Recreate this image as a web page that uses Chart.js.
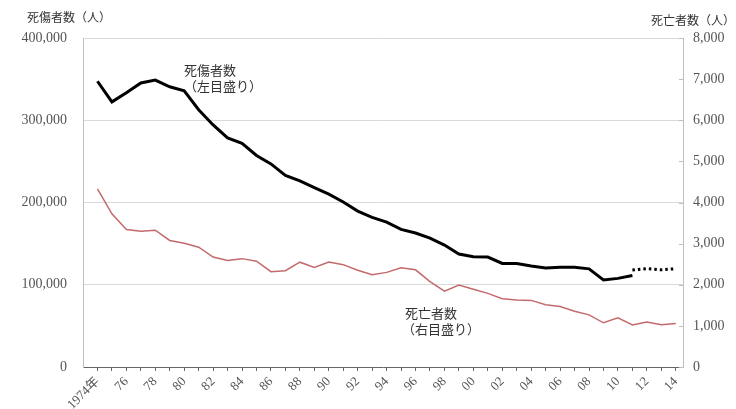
<!DOCTYPE html>
<html>
<head>
<meta charset="utf-8">
<script src="https://cdn.jsdelivr.net/npm/chart.js@4/dist/chart.umd.min.js"></script>
<style>
html, body { margin: 0; padding: 0; background: #fff; }
#wrap { width: 736px; height: 409px; }
</style>
</head>
<body>
<div id="wrap"><canvas id="chart"></canvas></div>
<script>
// years on the x axis
const years = [1974, 1975, 1976, 1977, 1978, 1979, 1980, 1981, 1982, 1983,
               1984, 1985, 1986, 1987, 1988, 1989, 1990, 1991, 1992, 1993,
               1994, 1995, 1996, 1997, 1998, 1999, 2000, 2001, 2002, 2003,
               2004, 2005, 2006, 2007, 2008, 2009, 2010, 2011, 2012, 2013, 2014];

// 死傷者数 (left axis), solid part 1974-2011
const casualties = [347407, 322322, 333311, 345293, 348826, 340731, 335706, 312844, 294319, 278623,
                    271884, 257240, 246891, 232953, 226318, 217964, 210108, 200633, 189589, 181900,
                    176047, 167316, 162862, 156726, 148248, 137316, 133948, 133598, 125918, 125750,
                    122804, 120354, 121378, 121356, 119291, 105718, 107759, 111349];

// 死傷者数, dotted part 2011-2014
const newYears = [2011, 2012, 2013, 2014];
const casualtiesNew = [117958, 119576, 118157, 119535];

// 死亡者数 (right axis)
const deaths = [4330, 3725, 3345, 3302, 3326, 3077, 3009, 2912, 2674, 2588,
                2635, 2572, 2318, 2342, 2549, 2419, 2550, 2489, 2354, 2245,
                2301, 2414, 2363, 2078, 1844, 1992, 1889, 1790, 1658, 1628,
                1620, 1514, 1472, 1357, 1268, 1075, 1195, 1024, 1093, 1030, 1057];

const numFont = '"Liberation Serif", "Noto Sans CJK JP", serif';
const jpFont  = '"Noto Sans CJK JP", sans-serif';

const textPlugin = {
    id: 'texts',
    afterDraw(chart) {
        const ctx = chart.ctx;
        const y1 = chart.scales.y1;
        ctx.save();
        // small inward ticks on right axis
        ctx.strokeStyle = '#bfbfbf';
        ctx.lineWidth = 1;
        y1.ticks.forEach(t => {
            const py = Math.round(y1.getPixelForValue(t.value)) + 0.5;
            ctx.beginPath();
            ctx.moveTo(y1.left - 4, py);
            ctx.lineTo(y1.left, py);
            ctx.stroke();
        });

        ctx.fillStyle = '#333';
        ctx.textBaseline = 'middle';
        ctx.textAlign = 'left';
        ctx.font = '12px ' + jpFont;
        ctx.fillText('死傷者数（人）', 27, 17);
        ctx.fillText('死亡者数（人）', 651, 20);

        ctx.font = '13px ' + jpFont;
        ctx.fillText('死傷者数', 184, 70);
        ctx.fillText('（左目盛り）', 184, 86);
        ctx.fillText('死亡者数', 405, 313);
        ctx.fillText('（右目盛り）', 402, 329);
        ctx.restore();
    }
};

new Chart(document.getElementById('chart').getContext('2d'), {
    type: 'line',
    data: {
        datasets: [
            {
                label: '死傷者数',
                data: casualties.map((v, i) => ({ x: years[i], y: v })),
                yAxisID: 'y',
                borderColor: '#000',
                borderWidth: 3,
                pointRadius: 0,
                tension: 0
            },
            {
                label: '死傷者数（新）',
                data: casualtiesNew.map((v, i) => ({ x: newYears[i], y: v })),
                yAxisID: 'y',
                borderColor: '#000',
                borderWidth: 3,
                borderDash: [2.5, 3],
                pointRadius: 0,
                tension: 0
            },
            {
                label: '死亡者数',
                data: deaths.map((v, i) => ({ x: years[i], y: v })),
                yAxisID: 'y1',
                borderColor: '#c46a6c',
                borderWidth: 1.5,
                pointRadius: 0,
                tension: 0
            }
        ]
    },
    options: {
        responsive: true,
        maintainAspectRatio: false,
        animation: false,
        layout: { padding: { top: 38, left: 0, right: 0, bottom: 0 } },
        plugins: {
            legend: { display: false },
            tooltip: { enabled: false }
        },
        scales: {
            x: {
                type: 'linear',
                min: 1973,
                max: 2014.5,
                afterBuildTicks: s => { s.ticks = years.map(v => ({ value: v })); },
                afterFit: s => { s.height = 42; },
                ticks: {
                    autoSkip: false,
                    minRotation: 45,
                    maxRotation: 45,
                    padding: 3,
                    color: '#555',
                    font: { family: numFont, size: 13 },
                    callback: v => v === 1974 ? '1974年' : (v % 2 === 0 ? String(v).slice(2) : '')
                },
                grid: { drawOnChartArea: false, drawTicks: true, tickLength: 4, color: '#666' },
                border: { color: '#666', width: 1 }
            },
            y: {
                position: 'left',
                min: 0,
                max: 400000,
                afterFit: s => { s.width = 83; },
                ticks: {
                    stepSize: 100000,
                    padding: 16,
                    color: '#555',
                    font: { family: numFont, size: 14 },
                    callback: v => v.toLocaleString('en-US')
                },
                grid: { color: '#d9d9d9', drawTicks: false },
                border: { color: '#bfbfbf' }
            },
            y1: {
                position: 'right',
                min: 0,
                max: 8000,
                afterFit: s => { s.width = 53; },
                ticks: {
                    stepSize: 1000,
                    padding: 10,
                    color: '#555',
                    font: { family: numFont, size: 14 },
                    callback: v => v.toLocaleString('en-US')
                },
                grid: { drawOnChartArea: false, drawTicks: false },
                border: { color: '#bfbfbf' }
            }
        }
    },
    plugins: [textPlugin]
});
</script>
</body>
</html>
